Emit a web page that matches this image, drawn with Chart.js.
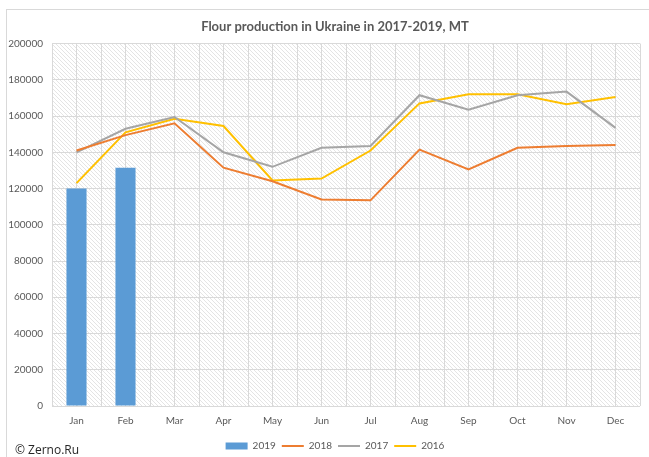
<!DOCTYPE html>
<html lang="en">
<head>
  <meta charset="UTF-8">
  <title>Flour production in Ukraine</title>
  <script src="https://cdn.jsdelivr.net/npm/chart.js"></script>
  <style>
    html, body { margin: 0; padding: 0; background: #fff; overflow: hidden; }
    #frame { position: absolute; left: 6px; top: 9px; width: 700px; height: 500px;
             border-top: 1px solid #d9d9d9; border-left: 1px solid #d9d9d9; }
    #chartBox { position: absolute; left: 0; top: 0; }
    #credit { position: absolute; left: 15px; top: 441px; font: 12px "Open Sans", sans-serif; color: #262626; }
  </style>
</head>
<body>
  <div id="frame"></div>
  <div id="chartBox"><canvas id="flourChart" width="668" height="461"></canvas></div>
  <div id="credit">© Zerno.Ru</div>

  <script>
// data (MT)
const months = ['Jan', 'Feb', 'Mar', 'Apr', 'May', 'Jun', 'Jul', 'Aug', 'Sep', 'Oct', 'Nov', 'Dec'];
const prod2019 = [120000, 131500, null, null, null, null, null, null, null, null, null, null];
const prod2018 = [141000, 149500, 156000, 131500, 124000, 114000, 113500, 141500, 130500, 142500, 143500, 144000];
const prod2017 = [140000, 153000, 159500, 140000, 132000, 142500, 143500, 171500, 163500, 171500, 173500, 153500];
const prod2016 = [123000, 151000, 158500, 154500, 124500, 125500, 141000, 167000, 172000, 172000, 166500, 170500];

// light diagonal hatch for the plot area
function makeHatch(ctx) {
  const c = document.createElement('canvas');
  c.width = 4; c.height = 4;
  const g = c.getContext('2d');
  g.fillStyle = '#ffffff';
  g.fillRect(0, 0, 4, 4);
  g.strokeStyle = '#e4e4e4';
  g.lineWidth = 1;
  g.beginPath();
  g.moveTo(-1, -1); g.lineTo(5, 5);
  g.moveTo(-1, 3); g.lineTo(1, 5);
  g.moveTo(3, -1); g.lineTo(5, 1);
  g.stroke();
  return ctx.createPattern(c, 'repeat');
}

const hatchPlugin = {
  id: 'hatch',
  beforeDraw(chart) {
    const a = chart.chartArea;
    const ctx = chart.ctx;
    ctx.save();
    ctx.fillStyle = makeHatch(ctx);
    ctx.fillRect(a.left, a.top, a.right - a.left, a.bottom - a.top);
    ctx.restore();
  }
};

const gridColor = '#d9d9d9';
const textColor = '#595959';

const ctx = document.getElementById('flourChart').getContext('2d');
new Chart(ctx, {
  type: 'bar',
  data: {
    labels: months,
    datasets: [
      { type: 'bar', label: '2019', data: prod2019, backgroundColor: '#5b9bd5',
        borderWidth: 0, barPercentage: 0.41, categoryPercentage: 1, order: 0 },
      { type: 'line', label: '2018', data: prod2018, borderColor: '#ed7d31', backgroundColor: '#ed7d31',
        borderWidth: 2, pointRadius: 0, tension: 0, order: 1 },
      { type: 'line', label: '2017', data: prod2017, borderColor: '#a5a5a5', backgroundColor: '#a5a5a5',
        borderWidth: 2, pointRadius: 0, tension: 0, order: 2 },
      { type: 'line', label: '2016', data: prod2016, borderColor: '#ffc000', backgroundColor: '#ffc000',
        borderWidth: 2, pointRadius: 0, tension: 0, order: 3 }
    ]
  },
  options: {
    responsive: false,
    animation: false,
    layout: { padding: { left: 6, right: 4, top: 0, bottom: 0 } },
    plugins: {
      tooltip: { enabled: false },
      title: {
        display: true,
        text: 'Flour production in Ukraine in 2017-2019, MT',
        color: textColor,
        font: { family: 'Lato', size: 13, weight: 'bold' },
        padding: { top: 19, bottom: 9 }
      },
      legend: {
        position: 'bottom',
        labels: {
          color: textColor,
          font: { family: 'Lato', size: 10 },
          usePointStyle: true,
          pointStyleWidth: 22,
          boxHeight: 7,
          padding: 6,
          generateLabels(chart) {
            const items = Chart.defaults.plugins.legend.labels.generateLabels(chart);
            items.forEach(it => { it.pointStyle = it.datasetIndex === 0 ? 'rect' : 'line'; });
            return items;
          }
        }
      }
    },
    scales: {
      x: {
        grid: { color: gridColor, offset: true, drawTicks: false },
        border: { display: false },
        ticks: { color: textColor, font: { family: 'Lato', size: 10 }, padding: 9, maxRotation: 0 },
        afterFit(axis) { axis.height = 29; }
      },
      x2: {
        type: 'category',
        labels: months,
        position: 'bottom',
        offset: true,
        grid: { color: gridColor, offset: false, drawTicks: false },
        border: { display: false },
        ticks: { display: false },
        afterFit(axis) { axis.height = 0; }
      },
      y: {
        min: 0,
        max: 200000,
        grid: { color: gridColor, drawTicks: false },
        border: { display: false },
        ticks: { stepSize: 20000, color: textColor, font: { family: 'Lato', size: 10 }, padding: 9,
                 callback: v => String(v) },
        afterFit(axis) { axis.width = 46; }
      },
      // empty right-hand margin so the plot ends where the reference does
      yRight: {
        position: 'right',
        min: 0,
        max: 200000,
        grid: { display: false },
        border: { display: false },
        ticks: { display: false },
        afterFit(axis) { axis.width = 24; }
      }
    }
  },
  plugins: [hatchPlugin]
});
  </script>
</body>
</html>
